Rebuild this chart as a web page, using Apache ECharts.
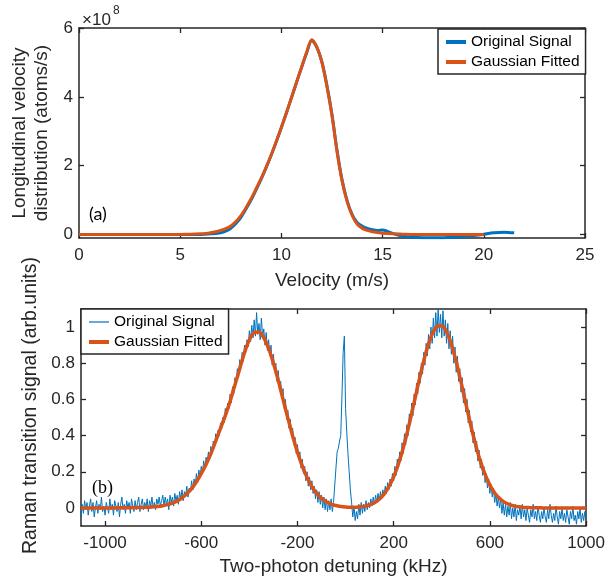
<!DOCTYPE html>
<html>
<head>
<meta charset="utf-8">
<script src="https://cdn.jsdelivr.net/npm/echarts@6/dist/echarts.min.js"></script>
<style>
  html, body { margin: 0; padding: 0; background: #fff; }
  #chart { width: 608px; height: 582px; }
</style>
</head>
<body>
<div id="chart"></div>
<script>
// (a) longitudinal velocity distribution, values in 1e8 atoms/s
var velocity = [0, 1, 2, 3, 4, 5, 5.5,
  6, 6.25, 6.5, 6.75, 7, 7.25, 7.5, 7.75, 8, 8.25, 8.5, 8.75, 9, 9.25, 9.5, 9.75,
  10, 10.25, 10.5, 10.75, 11, 11.25, 11.5, 11.75, 12, 12.25, 12.5, 12.75,
  13, 13.25, 13.5, 13.75, 14, 14.25, 14.5, 14.75, 15,
  15.5, 16, 16.5, 17, 17.5, 18, 18.5, 19, 19.5, 20, 20.5, 21, 21.5];
var velSignal = [0, 0, 0, 0, 0, 0, 0,
  0, 0.01, 0.02, 0.03, 0.05, 0.10, 0.18, 0.32, 0.50, 0.74, 1.00, 1.30, 1.61, 1.95, 2.31, 2.70,
  3.11, 3.54, 3.98, 4.42, 4.86, 5.28, 5.64, 5.44, 5.02, 4.33, 3.48, 2.44,
  1.58, 0.98, 0.58, 0.34, 0.24, 0.18, 0.14, 0.12, 0.13,
  0.03, -0.05, -0.08, -0.09, -0.09, -0.09, -0.08, -0.06, -0.03, 0.01, 0.05, 0.07, 0.05];
var velFit = [0, 0, 0, 0, 0, 0.005, 0.01,
  0.02, 0.03, 0.05, 0.08, 0.12, 0.17, 0.25, 0.38, 0.55, 0.78, 1.04, 1.33, 1.63, 1.96, 2.32, 2.71,
  3.12, 3.54, 3.98, 4.43, 4.87, 5.30, 5.66, 5.45, 5.00, 4.30, 3.45, 2.40,
  1.55, 0.95, 0.55, 0.30, 0.18, 0.12, 0.08, 0.06, 0.04,
  0.02, 0.01, 0, 0, 0, 0, 0, 0, 0, 0, null, null, null];

// (b) Raman transition signal, one sample every 5 kHz from -1100 kHz
var detuneStart = -1100, detuneStep = 5;
var ramanSignal = [
  -0.05,0.02,-0.03,0.04,-0.01,0.03,-0.04,0.01,0.05,-0.02,0.03,-0.05,0.00,0.04,-0.03,0.02,-0.01,0.06,-0.02,0.01,
  -0.04,0.03,0.00,-0.03,0.05,-0.01,0.02,-0.04,0.04,0.01,-0.02,0.03,-0.05,0.02,0.06,-0.01,0.02,-0.03,0.04,0.00,
  0.03,-0.03,0.05,0.01,-0.02,0.04,-0.01,0.03,0.06,-0.02,0.02,0.05,-0.01,0.03,0.00,0.05,-0.02,0.04,0.01,0.06,
  0.00,0.03,-0.01,0.05,0.02,0.06,0.01,0.04,0.07,0.01,0.06,0.02,0.05,-0.01,0.07,0.03,0.06,0.01,0.08,0.04,
  0.07,0.02,0.09,0.05,0.10,0.04,0.09,0.07,0.12,0.06,0.11,0.09,0.15,0.10,0.16,0.13,0.19,0.14,0.21,0.17,
  0.23,0.19,0.26,0.22,0.28,0.26,0.31,0.27,0.34,0.30,0.37,0.33,0.41,0.38,0.43,0.40,0.47,0.44,0.50,0.47,
  0.55,0.51,0.58,0.55,0.63,0.58,0.67,0.63,0.72,0.69,0.77,0.72,0.82,0.78,0.86,0.81,0.90,0.86,0.93,0.89,
  0.98,0.92,1.01,0.94,1.04,0.95,1.08,0.96,1.02,0.93,1.05,0.95,0.99,0.90,0.97,0.87,0.93,0.84,0.90,0.79,
  0.85,0.75,0.80,0.70,0.76,0.66,0.70,0.61,0.66,0.55,0.60,0.49,0.54,0.44,0.49,0.40,0.44,0.35,0.39,0.30,
  0.35,0.27,0.31,0.22,0.27,0.19,0.23,0.15,0.20,0.12,0.17,0.10,0.15,0.08,0.12,0.05,0.10,0.03,0.09,0.02,
  0.07,0.00,0.06,-0.01,0.05,-0.02,0.04,-0.01,0.05,-0.02,0.03,0.04,0.22,0.31,0.33,0.37,0.40,0.62,0.86,0.95,
  0.55,0.42,0.30,0.20,0.10,0.03,-0.05,0.01,-0.07,-0.02,-0.06,0.02,-0.04,0.03,-0.03,0.02,-0.02,0.04,-0.01,0.03,
  0.00,0.05,0.01,0.06,0.02,0.07,0.03,0.08,0.04,0.09,0.05,0.10,0.07,0.12,0.08,0.14,0.10,0.16,0.12,0.19,
  0.15,0.23,0.18,0.27,0.22,0.31,0.26,0.36,0.30,0.41,0.35,0.46,0.40,0.52,0.46,0.58,0.51,0.63,0.57,0.69,
  0.63,0.75,0.69,0.80,0.74,0.86,0.79,0.91,0.84,0.96,0.88,1.00,0.91,1.05,0.94,1.08,0.95,1.10,0.97,1.07,
  0.94,1.09,0.95,1.04,0.91,1.02,0.88,0.98,0.85,0.95,0.80,0.89,0.75,0.84,0.70,0.77,0.64,0.72,0.58,0.66,
  0.53,0.60,0.47,0.54,0.42,0.48,0.36,0.42,0.31,0.37,0.26,0.32,0.22,0.27,0.18,0.23,0.14,0.19,0.11,0.16,
  0.08,0.13,0.06,0.11,0.03,0.08,0.01,0.06,0.00,0.05,-0.03,0.03,-0.04,0.02,-0.05,0.01,-0.04,0.03,-0.06,0.00,
  -0.05,0.02,-0.07,-0.01,-0.04,0.01,-0.06,0.02,-0.05,-0.01,-0.07,0.00,-0.04,-0.08,-0.01,-0.05,0.02,-0.06,-0.02,-0.07,
  0.01,-0.04,-0.08,-0.02,-0.06,0.00,-0.05,-0.08,-0.01,-0.06,0.02,-0.04,-0.08,-0.03,-0.07,0.01,-0.05,-0.09,-0.02,-0.06,
  0.00,-0.07,-0.03,-0.08,-0.01,-0.05,-0.09,-0.02,-0.06,0.01,-0.07,-0.04,-0.09,-0.02,-0.06,0.00,-0.08,-0.03,-0.07,-0.02,
  -0.05
];
// gaussian fit, one point every 20 kHz from -1100 kHz
var fitStep = 20;
var ramanFit = [
  0, 0, 0, 0, 0,
  0, 0, 0, 0.001, 0.001,
  0.001, 0.002, 0.002, 0.003, 0.004,
  0.006, 0.008, 0.012, 0.018, 0.026,
  0.038, 0.055, 0.078, 0.107, 0.145,
  0.19, 0.24, 0.30, 0.37, 0.44,
  0.51, 0.59, 0.68, 0.77, 0.86,
  0.93, 0.97, 0.973, 0.94, 0.882,
  0.80, 0.706, 0.60, 0.497, 0.398,
  0.308, 0.231, 0.168, 0.118, 0.081,
  0.053, 0.034, 0.021, 0.013, 0.008,
  0.005, 0.004, 0.004, 0.006, 0.009,
  0.017, 0.029, 0.048, 0.076, 0.117,
  0.172, 0.244, 0.333, 0.437, 0.553,
  0.672, 0.787, 0.887, 0.961, 1.003,
  1.007, 0.973, 0.904, 0.809, 0.696,
  0.577, 0.46, 0.353, 0.26, 0.185,
  0.126, 0.083, 0.053, 0.032, 0.019,
  0.011, 0.006, 0.003, 0.002, 0.001,
  0.001, 0, 0, 0, 0,
  0, 0, 0, 0, 0,
  0
];

var xTicksA = [0, 5, 10, 15, 20, 25];
var yTicksA = [0, 2, 4, 6];
var xTicksB = [-1000, -600, -200, 200, 600, 1000];
var yTicksB = [0, 0.2, 0.4, 0.6, 0.8, 1];

var blue = '#0072BD', orange = '#D95319', ink = '#262626';
var sans = 'Liberation Sans, Arial, sans-serif';

function pairs(xs, ys) {
  return ys.map(function (y, i) { return [xs[i], y]; });
}
function grid(start, step, ys) {
  return ys.map(function (y, i) { return [start + i * step, y]; });
}

// one box axis: main ones carry labels, mirrored ones only ticks
function boxAxis(gridIndex, pos, min, max, ticks, extra) {
  var main = pos === 'bottom' || pos === 'left';
  var ax = {
    type: 'value', gridIndex: gridIndex, position: pos, min: min, max: max,
    axisLine: { show: true, onZero: false, lineStyle: { color: ink, width: 1.5 } },
    axisTick: { show: true, inside: true, length: 5, customValues: ticks, lineStyle: { color: ink, width: 1.3 } },
    axisLabel: {
      show: main, customValues: ticks, fontSize: 17, color: ink, fontFamily: sans,
      margin: pos === 'left' ? 6 : 9,
      formatter: function (v) { return String(v); }
    },
    splitLine: { show: false }
  };
  return Object.assign(ax, extra || {});
}

// legend keeps only the line sample, the marker is hidden
function legendBox(left, top, blueWidth) {
  return {
    orient: 'vertical', left: left, top: top,
    backgroundColor: '#fff', borderColor: ink, borderWidth: 1.5, borderRadius: 0,
    padding: [5, 6, 4, 6], itemWidth: 20, itemHeight: 14, itemGap: 4,
    textStyle: { fontSize: 15.5, color: '#000', fontFamily: sans, lineHeight: 16 },
    selectedMode: false,
    data: [
      { name: 'Original Signal', lineStyle: { color: blue, width: blueWidth }, itemStyle: { opacity: 0 } },
      { name: 'Gaussian Fitted', lineStyle: { color: orange, width: 4 }, itemStyle: { opacity: 0 } }
    ]
  };
}

var chart = echarts.init(document.getElementById('chart'), null, { renderer: 'canvas' });
chart.setOption({
  animation: false,
  backgroundColor: '#fff',
  grid: [
    { left: 79, top: 28, width: 506, height: 210 },
    { left: 81, top: 309, width: 506, height: 217 }
  ],
  xAxis: [
    boxAxis(0, 'bottom', 0, 25, xTicksA, {
      name: 'Velocity (m/s)', nameLocation: 'middle', nameGap: 33,
      nameTextStyle: { fontSize: 19, color: ink, fontFamily: sans }
    }),
    boxAxis(0, 'top', 0, 25, xTicksA),
    boxAxis(1, 'bottom', -1100, 1000, xTicksB, {
      name: 'Two-photon detuning (kHz)', nameLocation: 'middle', nameGap: 31,
      nameTextStyle: { fontSize: 19, color: ink, fontFamily: sans }
    }),
    boxAxis(1, 'top', -1100, 1000, xTicksB)
  ],
  yAxis: [
    boxAxis(0, 'left', -0.1, 6, yTicksA, {
      name: 'Longitudinal velocity\ndistribution (atoms/s)', nameLocation: 'middle', nameGap: 25,
      nameTextStyle: { fontSize: 19, lineHeight: 22, color: ink, fontFamily: sans }
    }),
    boxAxis(0, 'right', -0.1, 6, yTicksA),
    boxAxis(1, 'left', -0.1, 1.1, yTicksB, {
      name: 'Raman transition signal (arb.units)', nameLocation: 'middle', nameGap: 40,
      nameTextStyle: { fontSize: 19.5, color: ink, fontFamily: sans, padding: [0, 0, 0, 24] }
    }),
    boxAxis(1, 'right', -0.1, 1.1, yTicksB)
  ],
  legend: [legendBox(438, 29, 4), legendBox(81, 309, 1.2)],
  series: [
    {
      name: 'Original Signal', type: 'line', xAxisIndex: 0, yAxisIndex: 0,
      data: pairs(velocity, velSignal), symbol: 'none', smooth: 0.3,
      lineStyle: { color: blue, width: 3 }, itemStyle: { color: blue }
    },
    {
      name: 'Gaussian Fitted', type: 'line', xAxisIndex: 0, yAxisIndex: 0,
      data: pairs(velocity, velFit), symbol: 'none', smooth: 0.3,
      lineStyle: { color: orange, width: 3 }, itemStyle: { color: orange }
    },
    {
      name: 'Original Signal', type: 'line', xAxisIndex: 2, yAxisIndex: 2,
      data: grid(detuneStart, detuneStep, ramanSignal), symbol: 'none',
      lineStyle: { color: blue, width: 1 }, itemStyle: { color: blue }
    },
    {
      name: 'Gaussian Fitted', type: 'line', xAxisIndex: 2, yAxisIndex: 2,
      data: grid(detuneStart, fitStep, ramanFit), symbol: 'none', smooth: 0.3,
      lineStyle: { color: orange, width: 3.5 }, itemStyle: { color: orange }
    }
  ],
  graphic: [
    { type: 'text', left: 82, top: 12, style: { text: '\u00d710', fontSize: 17, fill: ink, fontFamily: sans } },
    { type: 'text', left: 113, top: 5, style: { text: '8', fontSize: 12, fill: ink, fontFamily: sans } },
    { type: 'text', left: 89, top: 205, style: { text: '(a)', fontSize: 18, fill: '#000', fontFamily: 'Lato, sans-serif' } },
    { type: 'text', left: 92, top: 479, style: { text: '(b)', fontSize: 18, fill: '#000', fontFamily: 'Liberation Serif, serif' } }
  ]
});
</script>
</body>
</html>
